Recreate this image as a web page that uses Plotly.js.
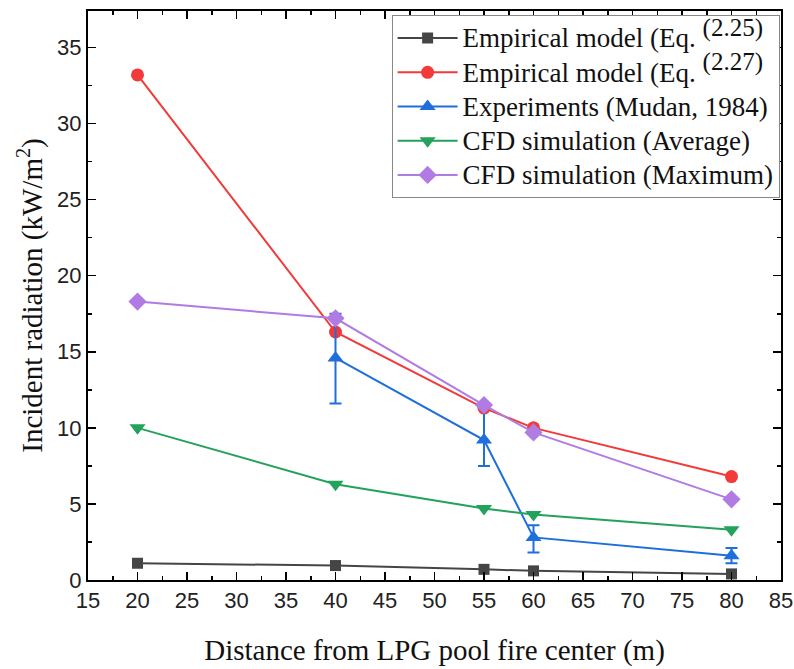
<!DOCTYPE html>
<html>
<head>
<meta charset="utf-8">
<script src="https://cdn.plot.ly/plotly-3.0.1.min.js"></script>
<style>
  html, body { margin: 0; padding: 0; background: #fff; }
  #chart { width: 794px; height: 669px; }
</style>
</head>
<body>
<div id="chart"></div>
<script>
// Distances from the pool fire centre (m)
const distance = [20, 40, 55, 60, 80];
const expDistance = [40, 55, 60, 80];

// Incident radiation (kW/m2)
const empirical225 = [1.1, 0.95, 0.7, 0.6, 0.4];
const empirical227 = [33.2, 16.3, 11.3, 10.0, 6.8];
const experiments = [14.6, 9.2, 2.8, 1.6];
const expErrPlus = [2.9, 2.1, 0.8, 0.5];
const expErrMinus = [3.0, 1.7, 1.0, 0.5];
const cfdAverage = [10.0, 6.3, 4.7, 4.3, 3.3];
const cfdMaximum = [18.3, 17.2, 11.5, 9.7, 5.3];

const seriesNames = [
  'Empirical model (Eq. <sup><span style="font-size:25px">(2.25)</span></sup>',
  'Empirical model (Eq. <sup><span style="font-size:25px">(2.27)</span></sup>',
  'Experiments (Mudan, 1984)',
  'CFD simulation (Average)',
  'CFD simulation (Maximum)'
];

const colors = ['#454545', '#f23a3a', '#1e6fdc', '#22a25a', '#b07be3'];
const serif = "'Liberation Serif', 'Times New Roman', serif";

// legend entries are set a little larger than the legend row spacing
function legendLabel(s) {
  return '<span style="font-size:27px">' + s + '</span>';
}

function series(i, x, y, symbol, size, extra) {
  return Object.assign({
    type: 'scatter', mode: 'lines+markers',
    x: x, y: y, name: legendLabel(seriesNames[i]), legendgroup: 'g' + i,
    line: { color: colors[i], width: 2 },
    marker: { color: colors[i], symbol: symbol, size: size }
  }, extra || {});
}

const traces = [
  series(0, distance, empirical225, 'square', 11),
  series(1, distance, empirical227, 'circle', 13),
  series(2, expDistance, experiments, 'triangle-up', 14, {
    error_y: { type: 'data', symmetric: false, array: expErrPlus, arrayminus: expErrMinus,
               color: colors[2], thickness: 2, width: 6 }
  }),
  series(3, distance, cfdAverage, 'triangle-down', 14),
  series(4, distance, cfdMaximum, 'diamond', 14)
];

const axisCommon = {
  showline: true, linecolor: '#000', linewidth: 2, mirror: 'ticks',
  ticks: 'inside', ticklen: 8, tickwidth: 1.5, tickcolor: '#000',
  showgrid: false, zeroline: false,
  tickfont: { family: "'Liberation Sans', Arial, sans-serif", size: 22, color: '#222' },
  minor: { ticks: 'inside', ticklen: 4, tickwidth: 1.5, tickcolor: '#000', dtick: 2.5, showgrid: false }
};

const layout = {
  width: 794, height: 669,
  margin: { l: 88, r: 13, t: 11, b: 89 },
  paper_bgcolor: '#fff', plot_bgcolor: '#fff',
  showlegend: true,
  xaxis: Object.assign({}, axisCommon, {
    range: [15, 85], tick0: 15, dtick: 5,
    title: { text: 'Distance from LPG pool fire center (m)', standoff: 27,
             font: { family: serif, size: 29, color: '#111' } }
  }),
  yaxis: Object.assign({}, axisCommon, {
    range: [0, 37.4], tick0: 0, dtick: 5,
    title: { text: 'Incident radiation (kW/m<sup>2</sup>)', standoff: 6,
             font: { family: serif, size: 29, color: '#111' } }
  }),
  legend: {
    x: 0.998, y: 0.993, xanchor: 'right', yanchor: 'top',
    bgcolor: '#fff', bordercolor: '#888', borderwidth: 1,
    traceorder: 'grouped', tracegroupgap: 0, itemwidth: 60,
    font: { family: serif, size: 24, color: '#111' }
  }
};

Plotly.newPlot('chart', traces, layout, { displayModeBar: false, staticPlot: true });
</script>
</body>
</html>
